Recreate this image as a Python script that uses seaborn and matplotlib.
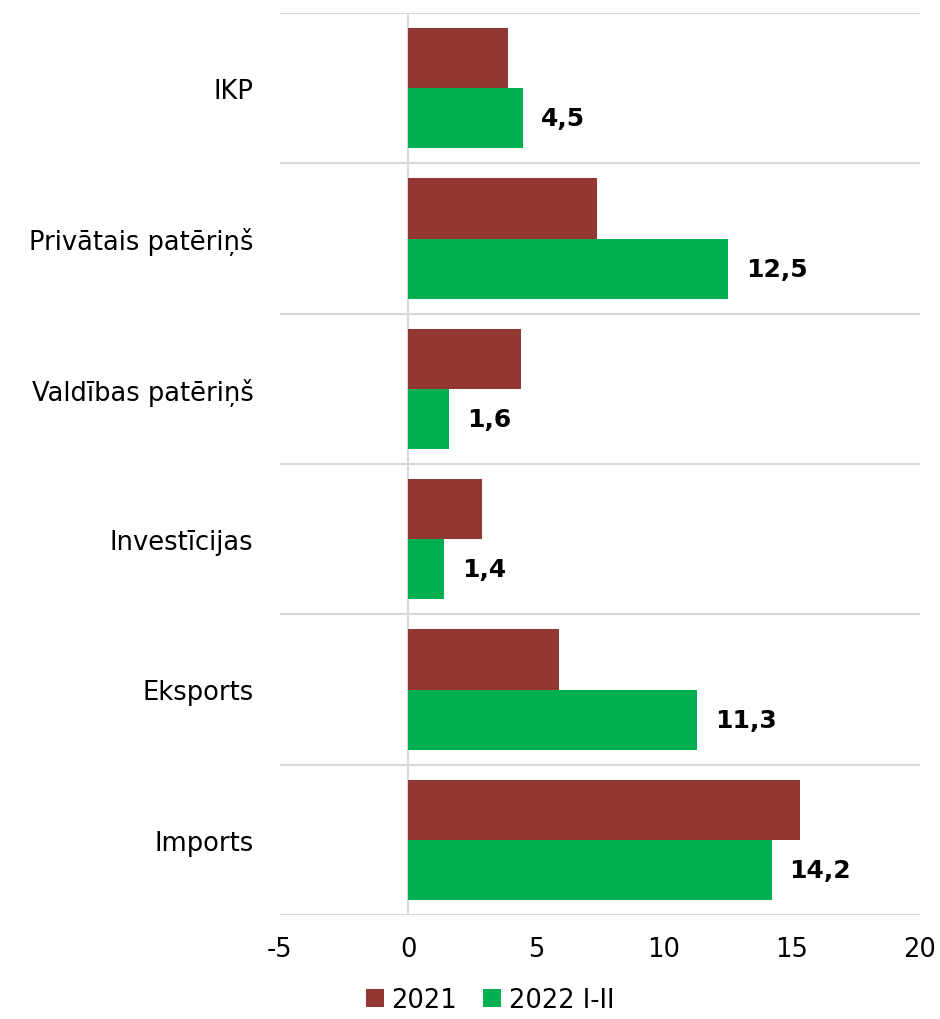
import matplotlib
matplotlib.use("Agg")
import matplotlib.pyplot as plt
import seaborn as sns
import pandas as pd
from matplotlib.patches import Patch

categories = ["IKP", "Privātais patēriņš", "Valdības patēriņš", "Investīcijas", "Eksports", "Imports"]
series_names = ["2021", "2022 I-II"]
values_2021 = [3.9, 7.4, 4.4, 2.9, 5.9, 15.3]
values_2022 = [4.5, 12.5, 1.6, 1.4, 11.3, 14.2]
x_ticks = [-5, 0, 5, 10, 15, 20]
colors = ["#943634", "#00B050"]

df = pd.DataFrame({
    "cat": categories * 2,
    "series": [series_names[0]] * len(categories) + [series_names[1]] * len(categories),
    "val": values_2021 + values_2022,
})

sns.set_theme(style="white")
plt.rcParams["font.family"] = ["DejaVu Sans"]

fig = plt.figure(figsize=(9.4, 10.2), dpi=100)
ax = fig.add_axes([280/940, 1 - 916/1020, 640/940, 902/1020])

sns.barplot(data=df, y="cat", x="val", hue="series", orient="h",
            palette=colors, order=categories, hue_order=series_names,
            width=0.8, saturation=1, ax=ax, legend=False, edgecolor="none")

ax.set_xlim(-5, 20)
ax.set_ylim(len(categories) - 0.5, -0.5)
ax.set_xticks(x_ticks)
ax.set_xticklabels([str(t) for t in x_ticks], fontsize=18.5, color="black")
for lab in ax.get_yticklabels():
    lab.set_color("black")
ax.tick_params(axis="y", labelsize=18.5, length=0, pad=19, labelcolor="black")
ax.tick_params(axis="x", length=0, pad=15, labelcolor="black")
ax.set_xlabel("")
ax.set_ylabel("")

for s in ax.spines.values():
    s.set_visible(False)

ax.set_yticks([i - 0.5 for i in range(len(categories) + 1)], minor=True)
ax.tick_params(axis="y", which="minor", length=0)
ax.grid(False)
ax.grid(True, which="minor", axis="y", color="#d9d9d9", linewidth=1.5)
ax.axvline(0, color="#d9d9d9", linewidth=1.5, zorder=0.5)

cont = ax.containers[1]
ax.bar_label(cont, labels=[f"{v:.1f}".replace(".", ",") for v in values_2022],
             padding=13, fontsize=18, fontweight="bold", color="black")

handles = [Patch(facecolor=c, edgecolor="none") for c in colors]
fig.legend(handles, series_names, loc="center", bbox_to_anchor=(490/940, 1 - 1001/1020),
           ncol=2, frameon=False, fontsize=18.5, handlelength=0.7, handleheight=0.7,
           handletextpad=0.3, columnspacing=1.0, labelcolor="black")

fig.savefig("out.png", dpi=100)
